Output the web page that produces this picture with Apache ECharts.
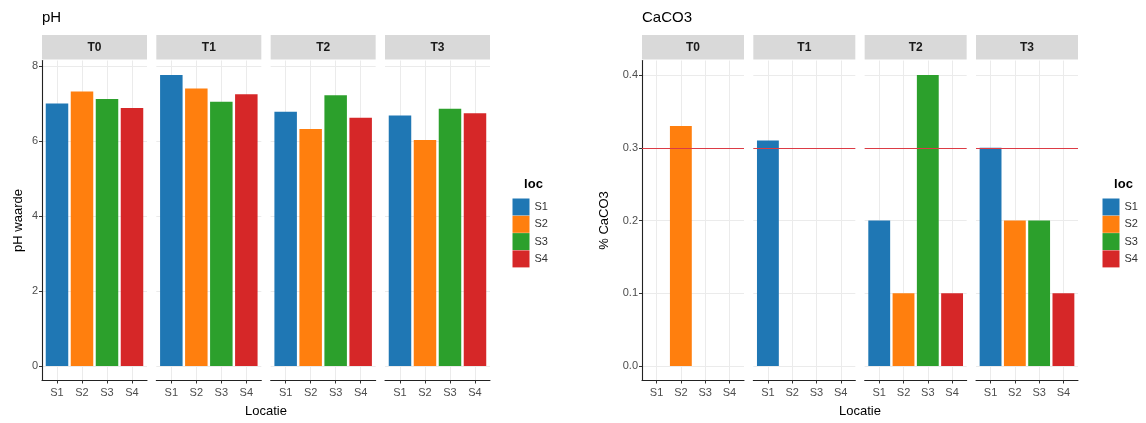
<!DOCTYPE html>
<html>
<head>
<meta charset="utf-8">
<script src="https://cdn.jsdelivr.net/npm/echarts@6/dist/echarts.min.js"></script>
<style>
  html, body { margin: 0; padding: 0; background: #ffffff; }
  #chart { width: 1146px; height: 423px; }
</style>
</head>
<body>
<div id="chart"></div>
<script>
// Sampling locations and periods
const locations = ['S1', 'S2', 'S3', 'S4'];
const periods = ['T0', 'T1', 'T2', 'T3'];
const locColors = ['#1f77b4', '#ff7f0e', '#2ca02c', '#d62728'];

// pH per period, one value per location (S1..S4)
const phT0 = [7.00, 7.32, 7.12, 6.88];
const phT1 = [7.76, 7.40, 7.05, 7.25];
const phT2 = [6.78, 6.32, 7.22, 6.62];
const phT3 = [6.68, 6.03, 6.86, 6.74];
const phTicks = [0, 2, 4, 6, 8];

// % CaCO3 per period, one value per location (null = not measured)
const caco3T0 = [null, 0.33, null, null];
const caco3T1 = [0.31, null, null, null];
const caco3T2 = [0.2, 0.1, 0.4, 0.1];
const caco3T3 = [0.3, 0.2, 0.2, 0.1];
const caco3Ticks = [0, 0.1, 0.2, 0.3, 0.4];
const caco3Limit = 0.3;

const FONT = "'Liberation Sans', Arial, Helvetica, sans-serif";
const PANEL_TOP = 60.5;
const PANEL_H = 320;
const STRIP_H = 24.5;
const GRID_COLOR = '#ebebeb';

const panels = [
  { title: 'pH', yName: 'pH waarde', data: [phT0, phT1, phT2, phT3], ticks: phTicks,
    fmt: v => String(v), left0: 42, step: 114.33, width: 105, yTitleX: 18,
    legendX: 512.5, refLine: null },
  { title: 'CaCO3', yName: '% CaCO3', data: [caco3T0, caco3T1, caco3T2, caco3T3], ticks: caco3Ticks,
    fmt: v => v.toFixed(1), left0: 642, step: 111.33, width: 102, yTitleX: 604,
    legendX: 1102.5, refLine: caco3Limit }
];

const grid = [], xAxis = [], yAxis = [], series = [], graphic = [], legend = [];

panels.forEach((p) => {
  const values = p.data.flat().filter(v => v != null);
  const top = Math.max(...values);
  const pad = top * 0.05;           // 5% expansion like ggplot
  const lastRight = p.left0 + (p.data.length - 1) * p.step + p.width;

  p.data.forEach((vals, fi) => {
    const idx = grid.length;
    const left = p.left0 + fi * p.step;
    grid.push({ left: left, top: PANEL_TOP, width: p.width, height: PANEL_H, containLabel: false });

    xAxis.push({
      type: 'value', gridIndex: idx, min: 0.4, max: 4.6,
      axisLine: { show: true, onZero: false, lineStyle: { color: '#222', width: 1.1 } },
      axisTick: { show: true, length: 3, customValues: [1, 2, 3, 4], lineStyle: { color: '#333', width: 1 } },
      axisLabel: { show: true, customValues: [1, 2, 3, 4], formatter: v => locations[Math.round(v) - 1],
        color: '#4d4d4d', fontSize: 11, fontFamily: FONT, margin: 7 },
      splitLine: { show: true, lineStyle: { color: GRID_COLOR, width: 1 } }
    });

    const first = fi === 0;
    yAxis.push({
      type: 'value', gridIndex: idx, min: -pad, max: top + pad,
      axisLine: { show: first, onZero: false, lineStyle: { color: '#222', width: 1.1 } },
      axisTick: { show: first, length: 3, customValues: p.ticks, lineStyle: { color: '#333', width: 1 } },
      axisLabel: { show: first, customValues: p.ticks, formatter: p.fmt,
        color: '#4d4d4d', fontSize: 11, fontFamily: FONT, margin: 4 },
      splitLine: { show: true, lineStyle: { color: GRID_COLOR, width: 1 } }
    });

    vals.forEach((v, k) => {
      const s = {
        type: 'bar', name: locations[k], xAxisIndex: idx, yAxisIndex: idx,
        data: [[k + 1, v]], barWidth: '90%', barGap: '-100%',
        itemStyle: { color: locColors[k] }, animation: false
      };
      if (p.refLine != null && k === 0) {
        s.markLine = {
          silent: true, symbol: 'none', animation: false,
          label: { show: false },
          lineStyle: { color: '#dc3b45', width: 1, type: 'solid' },
          data: [{ yAxis: p.refLine }]
        };
      }
      series.push(s);
    });

    // facet strip
    graphic.push({
      type: 'rect', silent: true,
      shape: { x: left, y: PANEL_TOP - STRIP_H - 1, width: p.width, height: STRIP_H },
      style: { fill: '#d9d9d9' }
    });
    graphic.push({
      type: 'text', silent: true,
      x: left + p.width / 2, y: PANEL_TOP - 1 - STRIP_H / 2,
      style: { text: periods[fi], fill: '#1a1a1a', font: 'bold 12px ' + FONT,
        textAlign: 'center', textVerticalAlign: 'middle' }
    });
  });

  // chart title
  graphic.push({
    type: 'text', silent: true, x: p.left0, y: 18,
    style: { text: p.title, fill: '#000', font: '15px ' + FONT, textAlign: 'left', textVerticalAlign: 'middle' }
  });
  // x axis title
  graphic.push({
    type: 'text', silent: true, x: (p.left0 + lastRight) / 2, y: 411,
    style: { text: 'Locatie', fill: '#000', font: '13px ' + FONT, textAlign: 'center', textVerticalAlign: 'middle' }
  });
  // y axis title
  graphic.push({
    type: 'text', silent: true, x: p.yTitleX, y: PANEL_TOP + PANEL_H / 2, rotation: Math.PI / 2,
    style: { text: p.yName, fill: '#000', font: '13px ' + FONT, textAlign: 'center', textVerticalAlign: 'middle' }
  });
  // legend title
  graphic.push({
    type: 'text', silent: true, x: p.legendX + 21, y: 184,
    style: { text: 'loc', fill: '#000', font: 'bold 13px ' + FONT, textAlign: 'center', textVerticalAlign: 'middle' }
  });

  legend.push({
    orient: 'vertical', left: p.legendX, top: 198.5, padding: 0,
    itemWidth: 17, itemHeight: 17, itemGap: 0.3, icon: 'rect',
    selectedMode: false, data: locations,
    textStyle: { fontSize: 11, color: '#333', fontFamily: FONT }
  });
});

const chart = echarts.init(document.getElementById('chart'), null, { renderer: 'canvas' });
chart.setOption({
  animation: false,
  backgroundColor: '#ffffff',
  textStyle: { fontFamily: FONT },
  grid: grid,
  xAxis: xAxis,
  yAxis: yAxis,
  legend: legend,
  series: series,
  graphic: graphic
});
</script>
</body>
</html>
